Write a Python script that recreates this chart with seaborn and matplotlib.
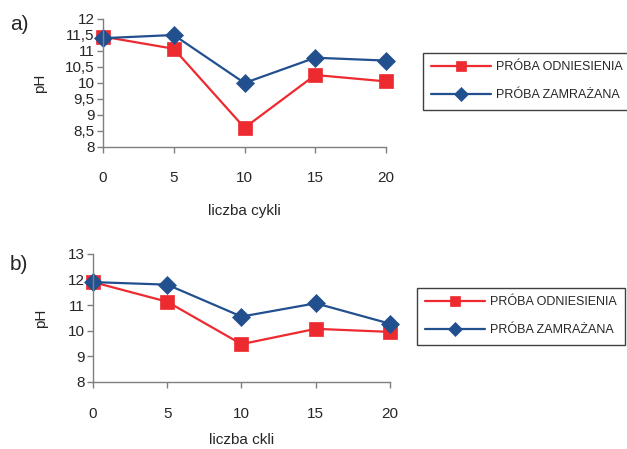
import matplotlib
matplotlib.use("Agg")
import matplotlib.pyplot as plt
import seaborn as sns
import pandas as pd

# dane
cykle = [0, 5, 10, 15, 20]
a_odniesienia = [11.45, 11.07, 8.6, 10.25, 10.05]
a_zamrazana = [11.4, 11.5, 10.0, 10.79, 10.7]
b_odniesienia = [11.9, 11.13, 9.47, 10.07, 9.95]
b_zamrazana = [11.9, 11.8, 10.55, 11.07, 10.27]

etykiety = ["PRÓBA ODNIESIENIA", "PRÓBA ZAMRAŻANA"]
a_yticks = [8, 8.5, 9, 9.5, 10, 10.5, 11, 11.5, 12]
b_yticks = [8, 9, 10, 11, 12, 13]

CZERWONY = "#ED2A30"
NIEBIESKI = "#22508F"

sns.set_style("ticks")
plt.rcParams['font.family'] = ['Liberation Sans', 'DejaVu Sans']

fig = plt.figure(figsize=(6.27, 4.49), dpi=100)
ax_a = fig.add_axes([103 / 627, 1 - 147 / 449, 283 / 627, 128 / 449])
ax_b = fig.add_axes([93 / 627, 1 - 381.7 / 449, 297 / 627, 127.7 / 449])


def etykieta(v):
    s = f"{v:g}"
    return s.replace(".", ",")


def rysuj(ax, odn, zam, yticks, xlabel, pad_tick, pad_label, ylab_x):
    df = pd.DataFrame({"x": cykle, "odn": odn, "zam": zam})
    sns.lineplot(data=df, x="x", y="odn", ax=ax, color=CZERWONY, marker="s",
                 markersize=10, markeredgecolor=CZERWONY, markeredgewidth=0.5,
                 linewidth=1.6, clip_on=False, label=etykiety[0], legend=False)
    sns.lineplot(data=df, x="x", y="zam", ax=ax, color=NIEBIESKI, marker="D",
                 markersize=9.5, markeredgecolor=NIEBIESKI, markeredgewidth=0.5,
                 linewidth=1.6, clip_on=False, label=etykiety[1], legend=False)
    ax.set_xlim(0, 20)
    ax.set_ylim(yticks[0], yticks[-1])
    ax.set_xticks(cykle)
    ax.set_yticks(yticks)
    ax.set_yticklabels([etykieta(v) for v in yticks])
    for s in ["top", "right"]:
        ax.spines[s].set_visible(False)
    for s in ["left", "bottom"]:
        ax.spines[s].set_color("#7f7f7f")
        ax.spines[s].set_linewidth(1.0)
    ax.tick_params(axis="both", labelsize=11, color="#7f7f7f", length=4, width=1.0)
    ax.tick_params(axis="x", pad=pad_tick)
    ax.tick_params(axis="y", pad=2)
    ax.set_xlabel(xlabel, fontsize=11, labelpad=pad_label)
    ax.set_ylabel("pH", fontsize=11)
    ax.yaxis.set_label_coords(ylab_x, 0.5)


rysuj(ax_a, a_odniesienia, a_zamrazana, a_yticks, "liczba cykli", 13, 14, -0.197)
rysuj(ax_b, b_odniesienia, b_zamrazana, b_yticks, "liczba ckli", 14, 9, -0.15)

for ax, y_top, x_left in [(ax_a, 53, 423), (ax_b, 288, 417)]:
    h, l = ax.get_legend_handles_labels()
    fig.legend(h, l, loc="upper left", bbox_to_anchor=(x_left / 627, 1 - y_top / 449),
               frameon=True, fancybox=False, edgecolor="#404040", framealpha=1,
               fontsize=9, handlelength=4.8, labelspacing=1.3, borderpad=0.65,
               handletextpad=0.4, borderaxespad=0, markerscale=0.75)

fig.text(10 / 627, 1 - 24 / 449, "a)", fontsize=15, va="center", ha="left")
fig.text(10 / 627, 1 - 264 / 449, "b)", fontsize=15, va="center", ha="left")

fig.savefig("out.png", dpi=100)
